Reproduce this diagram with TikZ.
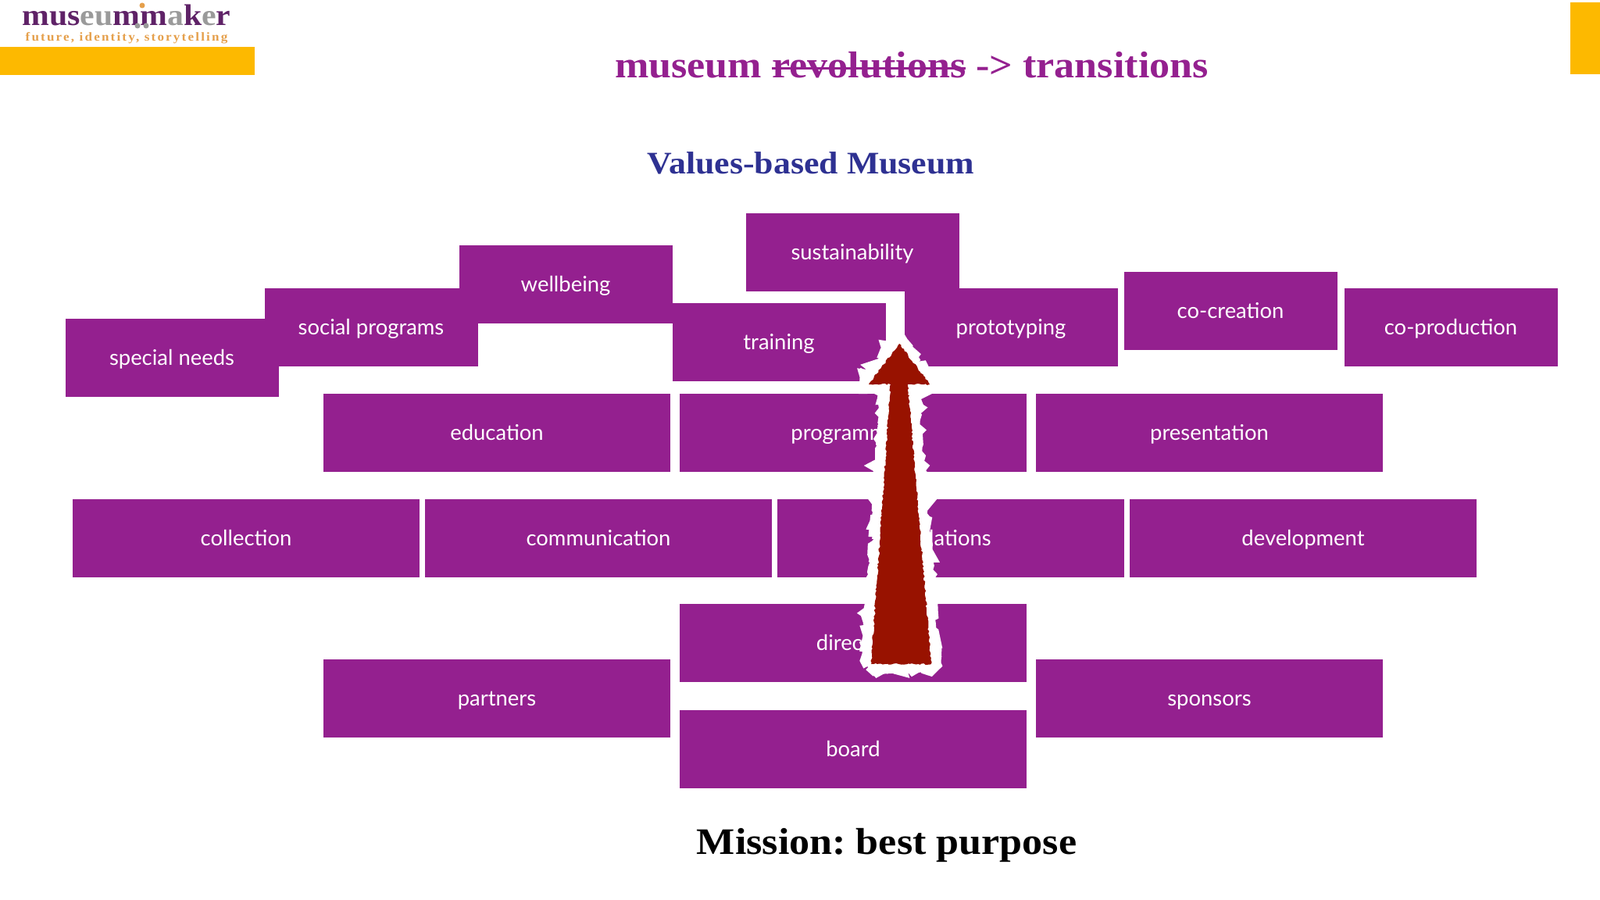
\documentclass[tikz,border=0pt]{standalone}
\usepackage{fontspec}
\setmainfont[FakeStretch=1.09]{Liberation Serif}
\newfontfamily\labelfont{Lato}
\usepackage{tikz}
\usetikzlibrary{decorations.pathmorphing}
\definecolor{tilepurple}{HTML}{94208F}
\definecolor{titleblue}{HTML}{2E3192}
\definecolor{arrowred}{HTML}{981200}
\definecolor{baryellow}{HTML}{FDB900}
\definecolor{logopurple}{HTML}{5F2267}
\definecolor{logogrey}{HTML}{9A9A9A}
\definecolor{logoorange}{HTML}{E5A04C}
\newcommand{\logoP}[1]{\textcolor{logopurple}{#1}}
\newcommand{\logoG}[1]{\textcolor{logogrey}{#1}}
\newcommand{\strikeword}[1]{\setbox0=\hbox{#1}\rlap{\rule[0.22em]{\wd0}{0.06em}}\box0\relax}
\begin{document}
\frenchspacing
\begin{tikzpicture}[tilebox/.style={font=\labelfont\fontsize{7.8}{10}\selectfont, fill=tilepurple, text=white, minimum width=2.73cm, minimum height=1cm, inner sep=0, text height=1.6ex, text depth=0.45ex, align=center},
widebox/.style={tilebox, minimum width=4.44cm},
barbox/.style={fill=baryellow, inner sep=0},
arrowshape/.style={decorate, decoration={random steps, segment length=0.7pt, amplitude=#1}, line join=miter, miter limit=2.2}]
\useasboundingbox (0,0) rectangle (20.48,11.52);
%logo and bars
\node[barbox, minimum width=3.26cm, minimum height=0.36cm] (leftbar) at (1.63,10.74) {};
\node[barbox, minimum width=0.38cm, minimum height=0.92cm] (rightbar) at (20.29,11.03) {};
\node (logo) at (1.62,11.33) {\fontsize{10.9}{12}\selectfont\bfseries\logoP{mus}\logoG{eu}\logoP{mm}\logoG{a}\logoP{k}\logoG{e}\logoP{r}};
\node[text=logoorange] (tagline) at (1.62,11.03) {\fontsize{4.45}{5}\selectfont\bfseries\addfontfeature{LetterSpace=14}future, identity, storytelling};
\fill[logoorange] (1.82,11.45) circle (0.035);
\fill[logogrey] (1.76,11.19) circle (0.035);
\fill[logogrey] (1.87,11.19) circle (0.035);
%titles
\node[text=tilepurple] (title) at (11.67,10.69) {\fontsize{13.6}{15}\selectfont\bfseries museum \strikeword{revolutions} -> transitions};
\node[text=titleblue] (subtitle) at (10.38,9.43) {\fontsize{11.45}{13}\selectfont\bfseries Values-based Museum};
\node (mission) at (11.35,0.70) {\fontsize{13.6}{15}\selectfont\bfseries Mission: best purpose};
%top row
\node[tilebox] (special) at (2.20,6.94) {special needs};
\node[tilebox] (social) at (4.75,7.33) {social programs};
\node[tilebox] (wellbeing) at (7.24,7.88) {wellbeing};
\node[tilebox] (training) at (9.97,7.14) {training};
\node[tilebox] (sustainability) at (10.91,8.29) {sustainability};
\node[tilebox] (prototyping) at (12.94,7.33) {prototyping};
\node[tilebox] (cocreation) at (15.75,7.54) {co-creation};
\node[tilebox] (coproduction) at (18.57,7.33) {co-production};
%wide rows
\node[widebox] (education) at (6.36,5.98) {education};
\node[widebox] (programming) at (10.92,5.98) {programming};
\node[widebox] (presentation) at (15.48,5.98) {presentation};
\node[widebox] (collection) at (3.15,4.63) {collection};
\node[widebox] (communication) at (7.66,4.63) {communication};
\node[widebox] (relations) at (12.17,4.63) {relations};
\node[widebox] (development) at (16.68,4.63) {development};
\node[widebox] (director) at (10.92,3.29) {director};
\node[widebox] (partners) at (6.36,2.58) {partners};
\node[widebox] (sponsors) at (15.48,2.58) {sponsors};
\node[widebox] (board) at (10.92,1.93) {board};
%big arrow
\draw[white, fill=white, line width=0.24cm, arrowshape=0.8pt] (11.51,7.12) -- (11.90,6.60) -- (11.62,6.60) -- (11.92,3.02) -- (11.15,3.02) -- (11.40,6.60) -- (11.12,6.60) -- cycle;
\fill[arrowred, arrowshape=0.3pt] (11.51,7.12) -- (11.90,6.60) -- (11.62,6.60) -- (11.92,3.02) -- (11.15,3.02) -- (11.40,6.60) -- (11.12,6.60) -- cycle;
\end{tikzpicture}
\end{document}
